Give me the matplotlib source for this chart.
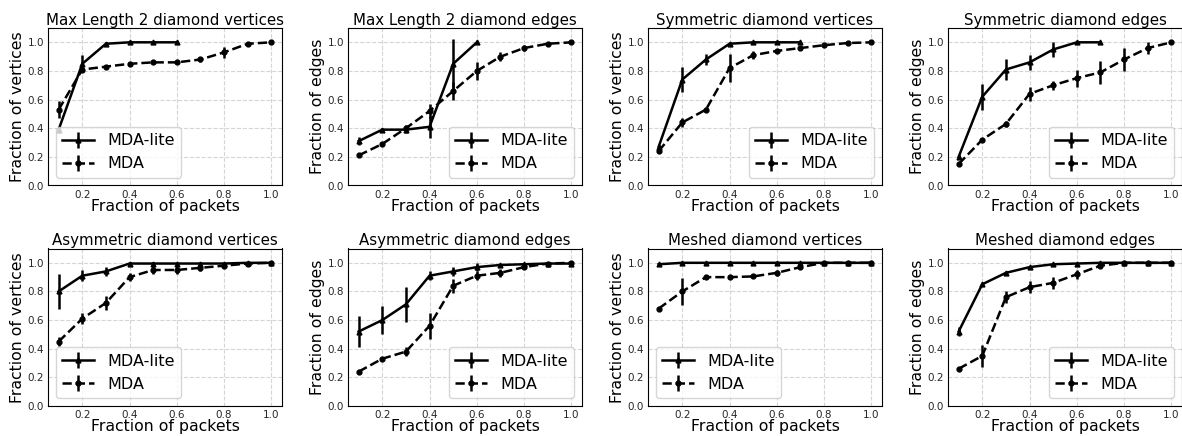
#!/usr/bin/env python3
"""
MDA-lite vs MDA: fraction of discovered vertices/edges per diamond type.
Output: out.png
"""
import numpy as np
import matplotlib
matplotlib.use("Agg")
import matplotlib.pyplot as plt

# packet fractions
X_ALL = [0.1, 0.2, 0.3, 0.4, 0.5, 0.6, 0.7, 0.8, 0.9, 1.0]

titles = [
    "Max Length 2 diamond vertices", "Max Length 2 diamond edges",
    "Symmetric diamond vertices", "Symmetric diamond edges",
    "Asymmetric diamond vertices", "Asymmetric diamond edges",
    "Meshed diamond vertices", "Meshed diamond edges",
]
ylabels = ["Fraction of vertices", "Fraction of edges"] * 4
legend_locs = ["lower left", "lower right", "lower right", "lower right",
               "lower left", "lower right", "lower left", "lower right"]

# MDA-lite series (mean, error)
lite_y = [
    [0.39, 0.85, 0.99, 1.0, 1.0, 1.0],
    [0.31, 0.39, 0.39, 0.41, 0.85, 1.0],
    [0.27, 0.74, 0.88, 0.99, 1.0, 1.0, 1.0],
    [0.20, 0.62, 0.81, 0.86, 0.95, 1.0, 1.0],
    [0.80, 0.91, 0.94, 0.995, 0.995, 0.995, 0.995, 0.995, 1.0, 1.0],
    [0.52, 0.60, 0.71, 0.91, 0.94, 0.97, 0.985, 0.99, 0.995, 0.995],
    [0.99, 1.0, 1.0, 1.0, 1.0, 1.0, 1.0, 1.0, 1.0, 1.0],
    [0.52, 0.85, 0.93, 0.97, 0.99, 0.995, 1.0, 1.0, 1.0, 1.0],
]
lite_err = [
    [0.02, 0.06, 0.01, 0.0, 0.0, 0.0],
    [0.03, 0.01, 0.02, 0.075, 0.17, 0.0],
    [0.01, 0.09, 0.04, 0.01, 0.0, 0.0, 0.0],
    [0.01, 0.09, 0.07, 0.05, 0.05, 0.0, 0.0],
    [0.125, 0.04, 0.03, 0.01, 0.01, 0.01, 0.01, 0.01, 0.0, 0.0],
    [0.11, 0.095, 0.12, 0.03, 0.03, 0.03, 0.01, 0.01, 0.0, 0.01],
    [0.0, 0.0, 0.0, 0.0, 0.0, 0.0, 0.0, 0.0, 0.0, 0.0],
    [0.03, 0.01, 0.01, 0.01, 0.0, 0.0, 0.0, 0.0, 0.0, 0.0],
]

# MDA series (mean, error)
mda_y = [
    [0.53, 0.81, 0.83, 0.85, 0.86, 0.86, 0.88, 0.93, 0.99, 1.0],
    [0.21, 0.29, 0.40, 0.52, 0.66, 0.80, 0.90, 0.96, 0.99, 1.0],
    [0.24, 0.44, 0.53, 0.82, 0.91, 0.94, 0.96, 0.98, 0.995, 1.0],
    [0.15, 0.32, 0.43, 0.64, 0.70, 0.75, 0.79, 0.88, 0.96, 1.0],
    [0.45, 0.61, 0.72, 0.90, 0.95, 0.95, 0.965, 0.98, 0.995, 1.0],
    [0.24, 0.33, 0.38, 0.56, 0.84, 0.91, 0.93, 0.97, 0.995, 1.0],
    [0.68, 0.80, 0.90, 0.90, 0.905, 0.93, 0.97, 1.0, 1.0, 1.0],
    [0.26, 0.35, 0.76, 0.83, 0.86, 0.92, 0.98, 1.0, 1.0, 1.0],
]
mda_err = [
    [0.06, 0.02, 0.01, 0.01, 0.01, 0.01, 0.02, 0.04, 0.01, 0.0],
    [0.01, 0.01, 0.02, 0.05, 0.06, 0.06, 0.03, 0.02, 0.01, 0.0],
    [0.01, 0.03, 0.02, 0.10, 0.03, 0.01, 0.01, 0.01, 0.0, 0.0],
    [0.01, 0.01, 0.02, 0.05, 0.03, 0.06, 0.08, 0.08, 0.04, 0.0],
    [0.03, 0.04, 0.05, 0.03, 0.03, 0.03, 0.02, 0.01, 0.0, 0.0],
    [0.01, 0.01, 0.03, 0.09, 0.05, 0.03, 0.03, 0.01, 0.0, 0.01],
    [0.01, 0.095, 0.01, 0.01, 0.01, 0.02, 0.01, 0.0, 0.0, 0.0],
    [0.01, 0.075, 0.04, 0.04, 0.04, 0.03, 0.01, 0.0, 0.0, 0.0],
]


def main():
    fig, axes = plt.subplots(2, 4, figsize=(11.82, 4.36), dpi=100)
    fig.subplots_adjust(left=48 / 1182, right=1.0, top=1 - 28 / 436,
                        bottom=1 - 406 / 436, wspace=0.282, hspace=0.4)

    for i, ax in enumerate(axes.flat):
        yl = np.array(lite_y[i])
        ym = np.array(mda_y[i])
        xl = X_ALL[:len(yl)]
        xm = X_ALL[:len(ym)]
        ax.errorbar(xl, yl, yerr=lite_err[i], color="black", linestyle="-",
                    marker="^", markersize=3.5, linewidth=1.8, elinewidth=1.8,
                    label="MDA-lite")
        ax.errorbar(xm, ym, yerr=mda_err[i], color="black", linestyle="--",
                    marker="o", markersize=3.5, linewidth=1.8, elinewidth=1.8,
                    label="MDA")
        ax.set_ylim(0, 1.1)
        ax.set_yticks([0.0, 0.2, 0.4, 0.6, 0.8, 1.0])
        ax.set_xticks([0.2, 0.4, 0.6, 0.8, 1.0])
        ax.tick_params(labelsize=7.5, colors="#262626", length=0, pad=3)
        ax.grid(True, linestyle="--", color="#d5d5d5", linewidth=0.8)
        ax.set_axisbelow(True)
        ax.set_title(titles[i], fontsize=10.8, pad=2.5)
        ax.set_xlabel("Fraction of packets", fontsize=11.3, labelpad=-0.5)
        ax.set_ylabel(ylabels[i], fontsize=11.3, labelpad=2)
        ax.legend(loc=legend_locs[i], fontsize=11.5, handlelength=2.0)

    fig.savefig("out.png", dpi=100)
    plt.close(fig)


if __name__ == "__main__":
    main()
